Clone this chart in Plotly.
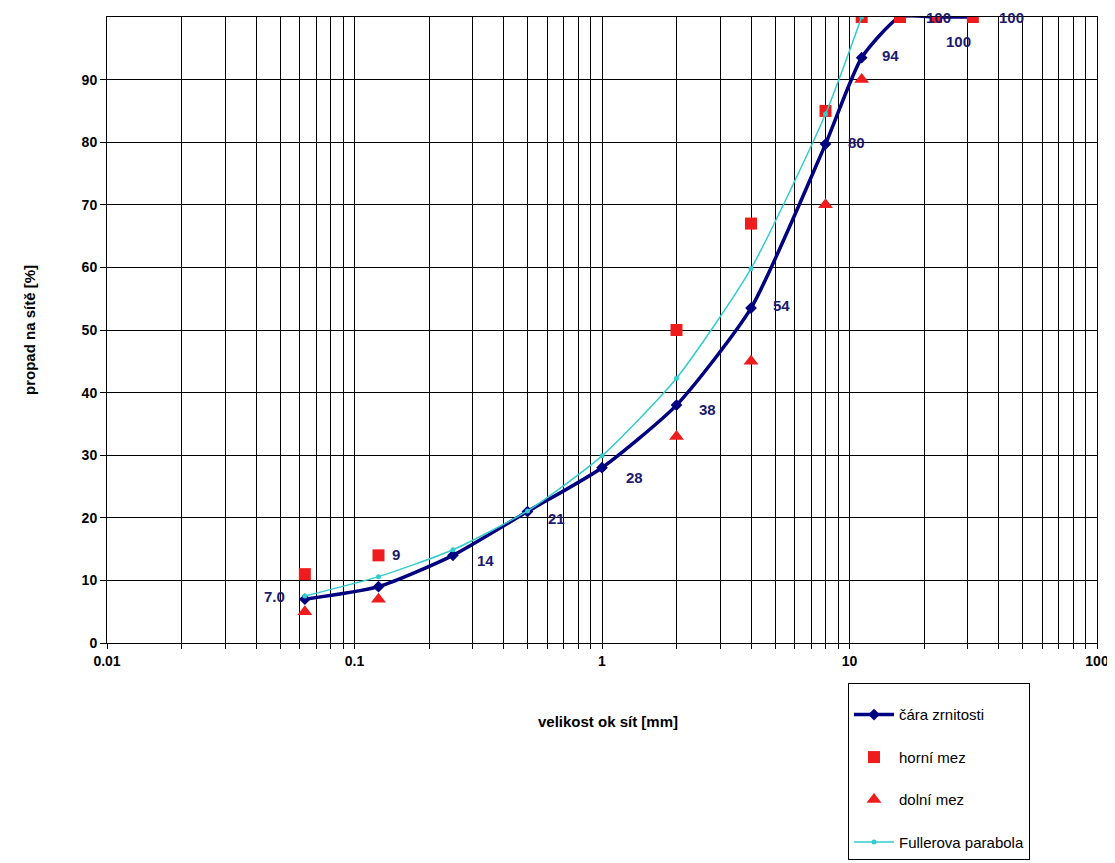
import numpy as np
import plotly.graph_objects as go

# ---- data ----
sieves = [0.063, 0.125, 0.25, 0.5, 1, 2, 4, 8, 11.2, 16, 22.4, 31.5]
grading = [7.0, 9, 14, 21, 28, 38, 53.5, 79.7, 93.5, 100, 100, 100]
grading_labels = ["7.0", "9", "14", "21", "28", "38", "54", "80", "94", "100", "100", "100"]

upper_x = [0.063, 0.125, 2, 4, 8, 11.2, 16, 22.4, 31.5]
upper_y = [11, 14, 50, 67, 85, 100, 100, 100, 100]

lower_x = [0.063, 0.125, 2, 4, 8, 11.2]
lower_y = [5, 7, 33, 45, 70, 90]

fuller_x = [0.063, 0.125, 0.25, 0.5, 1, 2, 4, 8, 11.2]
fuller_y = [7.5, 10.6, 14.9, 21.1, 29.9, 42.3, 59.8, 84.5, 100]

x_tick_vals = [m * 10.0 ** e for e in range(-2, 2) for m in range(1, 10)] + [100]
x_tick_text = [("0.01" if v == 0.01 else "0.1" if v == 0.1 else "1" if v == 1 else "10" if v == 10 else "100" if v == 100 else "")
               for v in x_tick_vals]
y_tick_vals = [0, 10, 20, 30, 40, 50, 60, 70, 80, 90]

x_title = "velikost ok sít [mm]"
y_title = "propad na sítě [%]"

FONT = "Liberation Sans, Arial, sans-serif"
NAVY = "#000080"
RED = "#EE1C1C"
CYAN = "#33CCCC"

fig = go.Figure()
fig.add_trace(go.Scatter(x=sieves, y=grading, mode="lines+markers", name="čára zrnitosti",
                         line=dict(color=NAVY, width=3.5, shape="spline", smoothing=0.6),
                         marker=dict(symbol="diamond", size=9, color=NAVY),
                         legendgroup="a"))
fig.add_trace(go.Scatter(x=upper_x, y=upper_y, mode="markers", name="horní mez",
                         marker=dict(symbol="square", size=12, color=RED),
                         legendgroup="b"))
fig.add_trace(go.Scatter(x=lower_x, y=lower_y, mode="markers", name="dolní mez",
                         marker=dict(symbol="triangle-up", size=13, color=RED),
                         legendgroup="c"))
fig.add_trace(go.Scatter(x=fuller_x, y=fuller_y, mode="lines+markers", name="Fullerova parabola",
                         line=dict(color=CYAN, width=1.5, shape="spline", smoothing=0.6),
                         marker=dict(symbol="circle", size=5, color=CYAN),
                         legendgroup="d"))

# data labels (offsets in pixels)
offsets = [(-18, 3, "right"), (12, 32, "left"), (22, -5, "left"), (18, -7, "left"),
           (22, -10, "left"), (20, -4, "left"), (20, 3, "left"), (20, 2, "left"),
           (18, 2, "left"), (24, 0, "left"), (8, -24, "left"), (24, 0, "left")]
for xv, yv, lab, (dx, dy, anc) in zip(sieves, grading, grading_labels, offsets):
    fig.add_annotation(x=np.log10(xv), y=yv, xref="x", yref="y", text=lab, showarrow=False,
                       xshift=dx, yshift=dy, xanchor=anc, yanchor="middle",
                       font=dict(family=FONT, size=15, color="#1a1a70", weight="bold"))

# x-axis title placed below the tick labels
fig.add_annotation(x=0.506, y=-0.126, xref="paper", yref="paper", text="<b>" + x_title + "</b>",
                   showarrow=False, xanchor="center", yanchor="middle",
                   font=dict(family=FONT, size=15, color="black"))

fig.update_layout(
    width=1107, height=855,
    margin=dict(l=99, r=18, t=9, b=220),
    paper_bgcolor="white", plot_bgcolor="white",
    font=dict(family=FONT, size=14, color="black"),
    showlegend=True,
    legend=dict(x=0.7485, y=0.2105, xref="paper", yref="container",
                xanchor="left", yanchor="top",
                bgcolor="white", bordercolor="black", borderwidth=1,
                traceorder="grouped", tracegroupgap=20,
                title=dict(text=" ", font=dict(size=11)),
                font=dict(family=FONT, size=15, color="black"),
                entrywidth=230, itemwidth=40),
)
fig.update_xaxes(type="log", range=[-2, 2], tickvals=x_tick_vals, ticktext=x_tick_text,
                 showgrid=True, gridcolor="black", gridwidth=1,
                 showline=True, linecolor="black", linewidth=1, mirror=True,
                 ticks="outside", ticklen=5, tickcolor="black",
                 tickfont=dict(family=FONT, size=14, color="black", weight="bold"),
                 zeroline=False, automargin=False)
fig.update_yaxes(range=[0, 100], tickvals=y_tick_vals,
                 showgrid=True, gridcolor="black", gridwidth=1,
                 showline=True, linecolor="black", linewidth=1, mirror=True,
                 ticks="outside", ticklen=6, tickcolor="black",
                 tickfont=dict(family=FONT, size=14, color="black", weight="bold"),
                 title=dict(text="<b>" + y_title + "</b>", standoff=42,
                            font=dict(family=FONT, size=15, color="black")),
                 zeroline=False, automargin=False)

fig.write_html("out.html")
